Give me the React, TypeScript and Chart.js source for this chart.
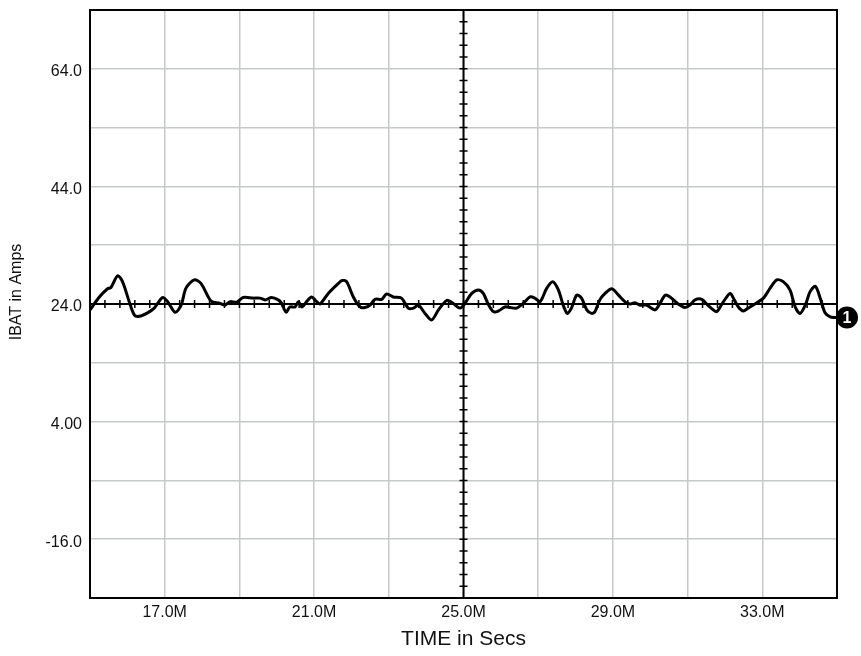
import React, { useEffect, useRef } from 'react';
import { Chart, registerables } from 'chart.js';

Chart.register(...registerables);

// Time in M-seconds (x) and IBAT in Amps (y)
const timeM = [
  15.0, 15.25, 15.47, 15.56, 15.74, 15.87, 16.05, 16.19, 16.32, 16.54, 16.72, 16.94,
  17.08, 17.28, 17.44, 17.57, 17.79, 17.97, 18.24, 18.48, 18.61, 18.75, 18.93, 19.1,
  19.37, 19.55, 19.69, 19.86, 20.04, 20.13, 20.25, 20.35, 20.49, 20.58, 20.67, 20.8,
  20.93, 21.07, 21.16, 21.38, 21.65, 21.75, 21.87, 22.05, 22.23, 22.36, 22.5, 22.63,
  22.81, 22.94, 23.12, 23.34, 23.52, 23.66, 23.79, 23.97, 24.15, 24.33, 24.55, 24.68,
  24.91, 25.04, 25.22, 25.4, 25.53, 25.66, 25.8, 25.93, 26.11, 26.25, 26.42, 26.6,
  26.78, 26.91, 27.05, 27.23, 27.39, 27.54, 27.67, 27.78, 27.89, 28.03, 28.16, 28.3,
  28.43, 28.52, 28.65, 28.79, 28.97, 29.15, 29.32, 29.46, 29.59, 29.73, 29.9, 30.13,
  30.26, 30.4, 30.53, 30.75, 30.93, 31.06, 31.2, 31.38, 31.51, 31.69, 31.78, 31.96,
  32.14, 32.25, 32.36, 32.49, 32.62, 32.8, 33.03, 33.21, 33.39, 33.56, 33.74, 33.88,
  34.01, 34.15, 34.28, 34.42, 34.55, 34.68, 34.82, 34.95, 35.0,
];
const ibat = [
  23.0, 25.2, 26.6, 26.8, 28.8, 27.8, 24.4, 22.1, 21.9, 22.5, 23.3, 25.1,
  24.4, 22.6, 23.8, 26.7, 28.1, 27.5, 24.5, 24.1, 23.8, 24.4, 24.3, 25.1,
  25.0, 25.0, 24.7, 25.1, 24.7, 24.1, 22.6, 23.5, 23.5, 24.4, 23.5, 24.4,
  25.2, 24.4, 24.0, 25.8, 27.5, 28.0, 27.8, 25.2, 23.5, 23.4, 23.8, 24.8,
  24.8, 25.7, 25.2, 25.0, 23.3, 23.3, 23.8, 22.4, 21.3, 23.0, 24.6, 24.3,
  23.3, 24.1, 25.8, 26.4, 25.8, 24.0, 22.7, 22.8, 23.5, 23.4, 23.3, 24.1,
  25.2, 25.0, 24.4, 26.7, 27.8, 26.4, 23.8, 22.4, 23.3, 25.5, 25.0, 23.0,
  22.4, 22.7, 24.7, 25.8, 26.6, 25.5, 24.4, 24.0, 24.2, 23.8, 23.8, 23.0,
  24.1, 25.5, 25.2, 24.0, 23.4, 23.8, 24.7, 24.8, 24.0, 23.0, 22.7, 24.4,
  25.8, 24.7, 23.5, 22.8, 23.3, 24.0, 25.0, 26.7, 28.1, 27.8, 26.4, 23.5,
  22.4, 23.8, 26.1, 27.0, 25.0, 22.5, 21.8, 21.7, 21.7,
];

const xTickValues = [17, 21, 25, 29, 33];
const xTickLabels = ['17.0M', '21.0M', '25.0M', '29.0M', '33.0M'];
const yTickValues = [64, 44, 24, 4, -16];
const yTickLabels = ['64.0', '44.0', '24.0', '4.00', '-16.0'];

const X_MIN = 15;
const X_MAX = 35;
const X_STEP = 2;
const Y_MIN = -26;
const Y_MAX = 74;
const Y_STEP = 10;
const CROSS_X = 25;
const CROSS_Y = 24;
const X_MINOR = 0.4;
const Y_MINOR = 2;
const MARKER_LABEL = '1';
const X_TITLE = 'TIME in Secs';
const Y_TITLE = 'IBAT in Amps';

const FONT = "'Liberation Sans', Arial, Helvetica, sans-serif";
const GRID = '#c6cac6';
const TEXT = '#111';

function labelFor(values: number[], labels: string[], v: number): string {
  for (let i = 0; i < values.length; i++) {
    if (Math.abs(values[i] - v) < 1e-6) return labels[i];
  }
  return '';
}

const decor = {
  id: 'decor',
  beforeDatasetsDraw(chart: any) {
    const { ctx, chartArea, scales } = chart;
    const { left, right, top, bottom } = chartArea;
    const x = scales.x;
    const y = scales.y;
    const cx = x.getPixelForValue(CROSS_X);
    const cy = y.getPixelForValue(CROSS_Y);
    ctx.save();
    ctx.strokeStyle = '#000';
    ctx.lineWidth = 2;
    ctx.beginPath();
    ctx.moveTo(cx, top);
    ctx.lineTo(cx, bottom);
    ctx.moveTo(left, cy);
    ctx.lineTo(right, cy);
    ctx.stroke();
    ctx.lineWidth = 1.5;
    ctx.beginPath();
    const nx = Math.round((X_MAX - X_MIN) / X_MINOR);
    for (let i = 1; i < nx; i++) {
      const px = x.getPixelForValue(X_MIN + i * X_MINOR);
      ctx.moveTo(px, cy - 4);
      ctx.lineTo(px, cy + 4);
    }
    const ny = Math.round((Y_MAX - Y_MIN) / Y_MINOR);
    for (let i = 1; i < ny; i++) {
      const py = y.getPixelForValue(Y_MIN + i * Y_MINOR);
      ctx.moveTo(cx - 4, py);
      ctx.lineTo(cx + 4, py);
    }
    ctx.stroke();
    ctx.restore();
  },
  afterDraw(chart: any) {
    const { ctx, chartArea, scales } = chart;
    const { left, right, top, bottom } = chartArea;
    ctx.save();
    // frame
    ctx.strokeStyle = '#000';
    ctx.lineWidth = 2;
    ctx.strokeRect(left, top, right - left, bottom - top);
    // y title
    ctx.fillStyle = TEXT;
    ctx.font = `16px ${FONT}`;
    ctx.textAlign = 'center';
    ctx.textBaseline = 'middle';
    ctx.translate(17, 292);
    ctx.rotate(-Math.PI / 2);
    ctx.fillText(Y_TITLE, 0, 0);
    ctx.restore();
    // trace marker
    const lastY = scales.y.getPixelForValue(ibat[ibat.length - 1]);
    const mx = right + 10;
    ctx.save();
    ctx.fillStyle = '#000';
    ctx.beginPath();
    ctx.arc(mx, lastY, 11, 0, Math.PI * 2);
    ctx.fill();
    ctx.fillStyle = '#fff';
    ctx.font = `bold 16px ${FONT}`;
    ctx.textAlign = 'center';
    ctx.textBaseline = 'middle';
    ctx.fillText(MARKER_LABEL, mx, lastY + 1);
    ctx.restore();
  },
};

export default function App() {
  const ref = useRef<HTMLCanvasElement>(null);
  useEffect(() => {
    document.body.style.margin = '0';
    const points = timeM.map((t, i) => ({ x: t, y: ibat[i] }));
    const chart = new Chart(ref.current as HTMLCanvasElement, {
      type: 'line',
      data: {
        datasets: [
          {
            data: points,
            borderColor: '#000',
            borderWidth: 3,
            pointRadius: 0,
            tension: 0.3,
            fill: false,
          },
        ],
      },
      options: {
        responsive: false,
        animation: false,
        layout: { padding: { top: 10, right: 24, left: 0, bottom: 0 } },
        plugins: { legend: { display: false }, tooltip: { enabled: false } },
        scales: {
          x: {
            type: 'linear',
            min: X_MIN,
            max: X_MAX,
            afterFit: (s: any) => {
              s.height = 58;
              s.paddingLeft = 0;
              s.paddingRight = 0;
            },
            border: { display: false },
            grid: { color: GRID, lineWidth: 1.5, drawTicks: false },
            ticks: {
              stepSize: X_STEP,
              autoSkip: false,
              maxRotation: 0,
              padding: 5,
              color: TEXT,
              font: { family: FONT, size: 16 },
              callback: (v: any) => labelFor(xTickValues, xTickLabels, Number(v)),
            },
            title: {
              display: true,
              text: X_TITLE,
              color: TEXT,
              font: { family: FONT, size: 21 },
              padding: { top: 0, bottom: 4 },
            },
          },
          y: {
            type: 'linear',
            min: Y_MIN,
            max: Y_MAX,
            afterFit: (s: any) => {
              s.width = 90;
              s.paddingTop = 0;
              s.paddingBottom = 0;
            },
            border: { display: false },
            grid: { color: GRID, lineWidth: 1.5, drawTicks: false },
            ticks: {
              stepSize: Y_STEP,
              autoSkip: false,
              padding: 8,
              labelOffset: 3,
              color: TEXT,
              font: { family: FONT, size: 16 },
              callback: (v: any) => labelFor(yTickValues, yTickLabels, Number(v)),
            },
          },
        },
      },
      plugins: [decor],
    });
    return () => chart.destroy();
  }, []);
  return (
    <div style={{ width: 861, height: 656, position: 'relative' }}>
      <canvas ref={ref} width={861} height={656} style={{ width: 861, height: 656, display: 'block' }} />
    </div>
  );
}
